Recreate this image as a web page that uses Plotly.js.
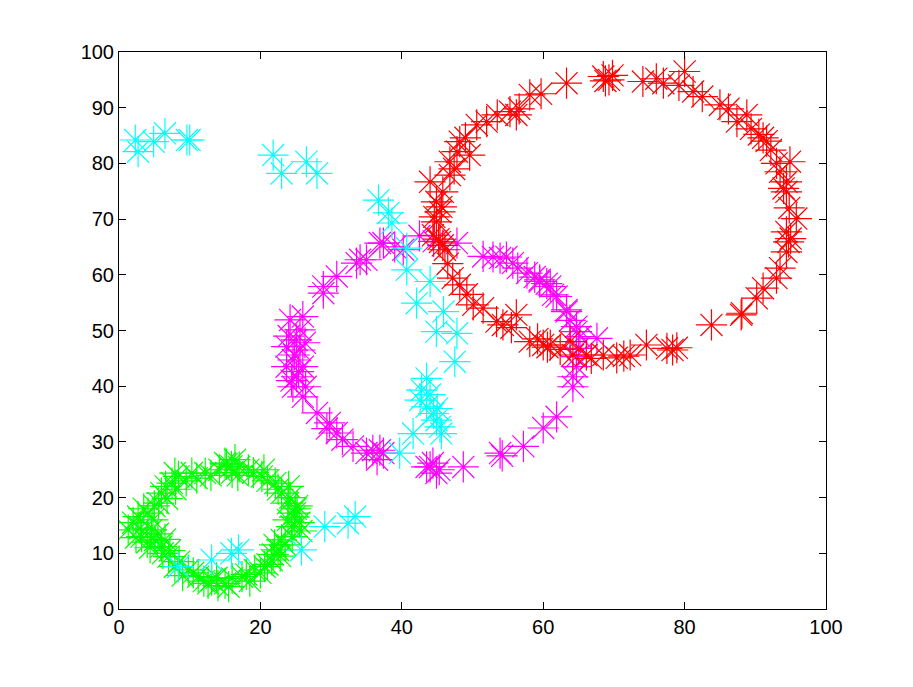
<!DOCTYPE html>
<html>
<head>
<meta charset="utf-8">
<script src="https://cdn.plot.ly/plotly-3.0.1.min.js"></script>
<style>
  html, body { margin: 0; padding: 0; background: #fff; }
  #chart { width: 913px; height: 687px; }
</style>
</head>
<body>
<div id="chart"></div>
<script>
// cluster points
const greenX = [1.3, 2.7, 4.1, 4.6, 5.1, 3.2, 6.0, 5.6, 6.0, 7.5, 8.4, 7.9, 10.3, 12.2, 15.0, 15.9, 16.4, 18.3, 20.2, 22.1,
  23.0, 23.9, 24.9, 23.9, 24.4, 23.0, 22.5, 21.6, 20.6, 19.2, 17.4, 15.0, 13.1, 11.2, 9.8, 7.9, 7.0,
  2.0, 3.5, 4.8, 5.5, 6.5, 7.2, 8.5, 10.5, 12.0, 14.0, 16.0, 18.0, 20.0, 21.0, 22.8, 23.5, 24.5, 25.5,
  25.0, 24.2, 22.5, 21.0, 19.0, 17.0, 16.0, 14.2, 13.0, 11.0, 9.5, 8.0, 6.8, 5.0, 3.0, 4.0, 6.2, 9.0,
  15.5, 18.5, 22.0, 25.8, 24.0, 20.5, 16.8, 15.2, 24.8, 25.2, 21.8, 2.4, 4.4, 6.6, 12.6, 13.8];
const greenY = [14.2, 16.6, 17.2, 14.2, 12.4, 13.0, 11.2, 19.0, 20.8, 22.6, 23.8, 24.4, 24.4, 24.4, 26.2, 25.6, 26.8, 25.0, 23.8, 22.6,
  20.8, 19.0, 17.2, 16.0, 14.8, 12.4, 10.6, 8.8, 7.6, 7.0, 5.8, 4.6, 5.2, 5.8, 7.0, 7.6, 9.4,
  15.5, 18.0, 16.0, 13.5, 12.5, 10.5, 8.5, 6.5, 5.0, 4.2, 5.5, 6.2, 6.5, 8.0, 9.5, 11.5, 13.0, 15.5,
  18.0, 20.0, 21.5, 23.0, 24.5, 25.5, 24.5, 25.0, 24.0, 23.5, 23.0, 21.5, 19.8, 18.5, 14.5, 12.0, 10.0, 6.0,
  4.0, 5.0, 11.5, 14.0, 22.0, 25.0, 24.0, 26.0, 16.5, 18.5, 9.8, 12.8, 11.0, 22.0, 4.6, 5.6];

const magentaX = [37.4, 36.9, 35.0, 34.1, 33.6, 30.8, 28.9, 28.9, 26.0, 24.2, 25.6, 25.1, 23.7, 25.6, 24.6, 23.7, 26.0, 25.1,
  24.6, 26.4, 26.0, 28.0, 29.8, 30.8, 33.1, 35.0, 35.9, 36.9, 37.4, 36.5, 43.5, 44.0, 44.4, 44.9, 45.3, 48.7,
  53.9, 54.2, 57.2, 60.0, 61.9, 64.2, 64.2, 64.7, 64.7, 65.2, 64.7, 64.7, 67.6, 63.3, 63.3, 61.9, 61.4, 61.0,
  59.5, 59.5, 57.7, 55.7, 54.8, 53.9, 52.9, 51.5, 47.8, 44.5, 42.5, 40.2, 39.0,
  24.8, 25.4, 24.0, 26.3, 24.4, 29.4, 31.6, 60.5, 58.8, 56.4, 65.0, 63.8];
const magentaY = [65.7, 65.7, 62.7, 62.7, 62.1, 59.7, 57.9, 56.7, 52.5, 51.9, 50.1, 48.3, 47.1, 46.5, 44.7, 43.5, 43.5, 41.7,
  39.9, 39.9, 38.1, 35.2, 33.4, 31.6, 29.2, 28.0, 28.5, 28.5, 28.0, 26.8, 25.5, 25.5, 26.2, 24.4, 25.0, 25.5,
  28.0, 27.5, 29.2, 32.5, 34.5, 39.9, 41.7, 43.5, 45.3, 48.9, 50.7, 49.8, 48.6, 53.7, 53.4, 56.1, 56.4, 57.9,
  59.1, 58.8, 60.3, 62.1, 63.2, 63.0, 63.2, 63.3, 65.7, 66.0, 67.0, 64.5, 65.0,
  45.6, 42.6, 49.0, 47.8, 41.0, 32.4, 30.4, 58.4, 59.6, 61.2, 46.8, 51.8];

const cyanX = [2.3, 2.7, 4.9, 6.5, 9.6, 10.0, 21.8, 23.0, 26.5, 28.0, 36.7, 38.1, 38.6, 40.7, 40.7, 44.0, 42.1, 45.9,
  44.9, 47.8, 47.5, 43.5, 42.8, 42.6, 43.5, 44.5, 44.9, 45.4, 45.6, 44.0, 45.0, 41.6, 39.7,
  8.4, 13.1, 15.9, 16.9, 25.8, 29.1, 32.4, 33.4];
const cyanY = [84.2, 82.1, 83.9, 85.4, 84.2, 84.2, 81.5, 78.2, 80.3, 78.2, 73.4, 71.1, 69.3, 64.8, 60.9, 58.8, 54.9, 53.4,
  49.8, 49.5, 44.4, 41.4, 39.3, 37.5, 36.3, 35.1, 33.9, 32.7, 31.5, 38.5, 36.0, 31.5, 28.0,
  7.6, 8.8, 10.0, 10.6, 10.6, 14.8, 15.4, 16.6];

const redX = [63.3, 68.5, 69.3, 69.8, 68.8, 74.1, 77.0, 80.0, 79.2, 81.2, 82.5, 85.0, 86.2, 87.4, 88.8, 91.1, 91.6, 90.5,
  93.0, 94.9, 93.5, 94.4, 94.0, 94.4, 95.8, 94.4, 94.7, 95.0, 94.4, 93.5, 93.0, 91.1, 90.2, 88.1, 88.0, 83.8,
  78.9, 78.3, 77.5, 74.6, 72.3, 70.4, 68.5, 66.1, 64.2, 63.8, 61.0, 60.0, 59.2, 58.1, 56.2, 55.5, 54.3, 53.4,
  51.5, 50.1, 49.2, 48.2, 47.2, 46.5, 45.8, 45.4, 46.1, 44.4, 44.9, 45.4, 44.9, 45.8, 44.0, 46.8, 46.8, 47.8,
  49.6, 48.2, 50.6, 52.0, 53.5, 55.3, 56.6, 56.2, 58.1, 59.7,
  45.2, 44.6, 45.6, 47.4, 49.0, 62.4, 60.6, 66.8, 71.4, 76.0, 92.2, 94.8, 89.4];
const redY = [94.4, 95.6, 95.0, 95.8, 94.8, 94.7, 94.4, 96.5, 94.0, 92.9, 92.0, 90.5, 89.8, 87.5, 88.7, 84.6, 84.0, 85.2,
  80.0, 80.3, 78.5, 76.7, 75.5, 74.9, 70.1, 67.7, 65.9, 66.5, 64.1, 61.2, 59.4, 57.6, 55.8, 53.1, 52.8, 51.0,
  46.9, 46.5, 46.8, 47.4, 45.6, 45.1, 45.6, 45.6, 45.6, 48.0, 47.4, 47.4, 48.5, 48.0, 52.8, 50.5, 51.0, 51.6,
  54.0, 54.6, 56.5, 58.2, 59.4, 62.0, 65.3, 65.9, 64.5, 67.1, 69.5, 71.3, 73.1, 74.9, 76.7, 77.9, 80.3, 82.1,
  81.5, 83.9, 86.9, 87.5, 88.7, 89.3, 89.8, 88.7, 92.3, 92.5,
  66.4, 70.4, 72.2, 79.0, 84.6, 46.6, 47.0, 45.0, 45.4, 95.2, 82.4, 72.0, 86.2];

const xTicks = [0, 20, 40, 60, 80, 100];
const yTicks = [0, 10, 20, 30, 40, 50, 60, 70, 80, 90, 100];

function starTrace(x, y, color) {
  return {
    x,
    y,
    type: "scatter",
    mode: "markers",
    hoverinfo: "skip",
    marker: {
      symbol: "asterisk-open",
      size: 26,
      color,
      line: { color, width: 1.2 },
    },
  };
}

function axis(ticks) {
  return {
    range: [0, 100],
    tickvals: ticks,
    ticktext: ticks.map(String),
    ticks: "inside",
    ticklen: 7,
    tickcolor: "#000",
    showline: true,
    linecolor: "#000",
    linewidth: 1,
    mirror: "ticks",
    showgrid: false,
    zeroline: false,
    fixedrange: true,
  };
}

Plotly.newPlot(
  "chart",
  [
    starTrace(greenX, greenY, "#00ff00"),
    starTrace(magentaX, magentaY, "#ff00ff"),
    starTrace(cyanX, cyanY, "#00ffff"),
    starTrace(redX, redY, "#ff0000"),
  ],
  {
    width: 913,
    height: 687,
    margin: { l: 119, r: 87, t: 52, b: 78 },
    paper_bgcolor: "#fff",
    plot_bgcolor: "#fff",
    showlegend: false,
    font: { family: "Liberation Sans, Arial, sans-serif", size: 20, color: "#000" },
    xaxis: axis(xTicks),
    yaxis: axis(yTicks),
  },
  { displayModeBar: false, staticPlot: true },
);
</script>
</body>
</html>
